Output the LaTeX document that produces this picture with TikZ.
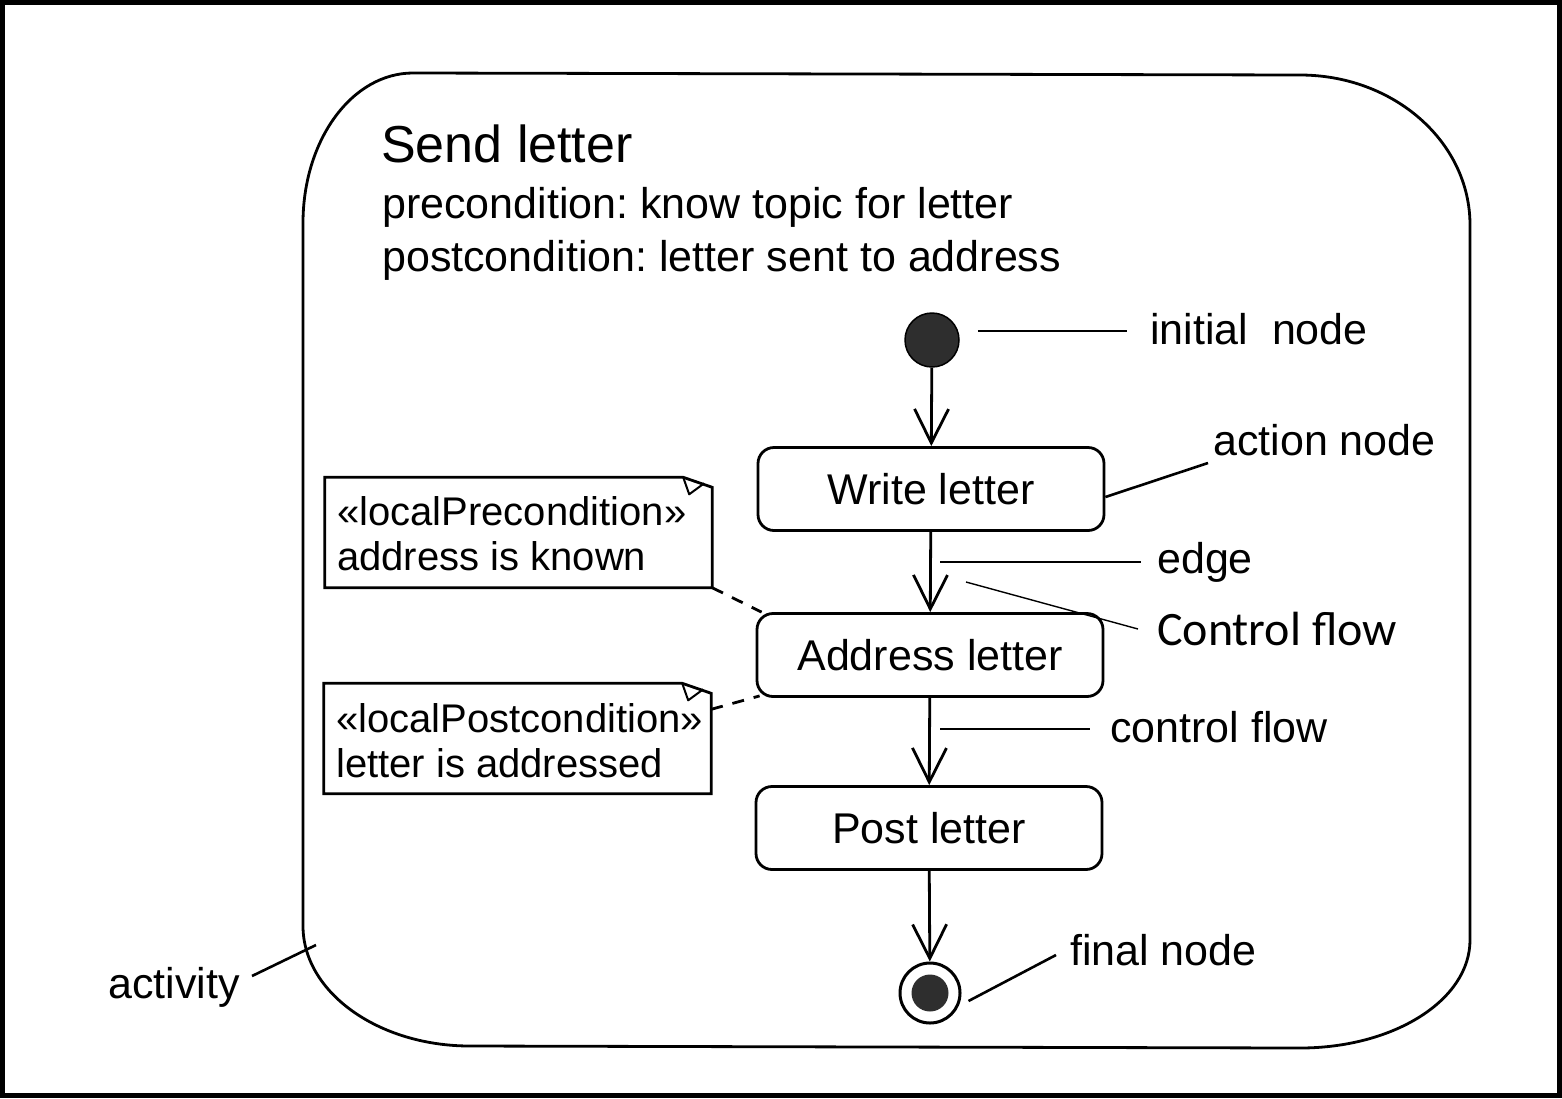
\documentclass[tikz,border=0pt]{standalone}
\usepackage{fontspec}
\setmainfont{Liberation Sans}
\newfontfamily\calibrifont{Carlito}
\usetikzlibrary{arrows.meta}
\frenchspacing

\begin{document}
\begin{tikzpicture}[x=1pt,y=-1pt,
  pen/.style={line width=2.8pt},
  actbox/.style={draw, pen, rounded corners=16pt, minimum width=346pt,
    minimum height=83pt, inner sep=0pt, font=\fontsize{43}{50}\selectfont},
  flow/.style={pen, -{Straight Barb[length=34pt,width=34pt]}},
  notearea/.style={minimum width=387pt, minimum height=110pt, inner sep=0pt},
  notetext/.style={anchor=base west, inner sep=0pt, font=\fontsize{40}{45}\selectfont},
  lbl/.style={anchor=base west, inner sep=0pt, font=\fontsize{43}{50}\selectfont},
  lblline/.style={line width=2.6pt},
  dashline/.style={line width=2.8pt, dash pattern=on 12pt off 10pt},
]
\useasboundingbox (0,0) rectangle (1562,1098);

% outer frame
\draw[line width=5pt] (2.5,2.5) rectangle (1559.5,1095.5);

% activity frame with elliptic corners
\draw[pen]
  (303,223) .. controls (303,140) and (352,73) .. (413,73)
  -- (1300,75) .. controls (1394,75) and (1470,142) .. (1470,225)
  -- (1470,940) .. controls (1470,1000) and (1394,1048) .. (1300,1048)
  -- (470,1046) .. controls (378,1046) and (303,992) .. (303,926)
  -- cycle;
\coordinate (actrim) at (316,945);

% activity heading
\node[anchor=base west, inner sep=0pt, font=\fontsize{52}{60}\selectfont] (title) at (381,162) {Send letter};
\node[lbl] (precond) at (382,218) {precondition: know topic for letter};
\node[lbl] (postcond) at (382,271) {postcondition: letter sent to address};

% control nodes
\node[circle, draw, line width=1.5pt, fill=black!82, minimum size=54pt, inner sep=0pt] (init) at (932,340) {};
\node[actbox] (write) at (931,489) {Write letter};
\node[actbox] (addr) at (930,655) {Address letter};
\node[actbox] (post) at (929,828) {Post letter};
\node[circle, draw, line width=3pt, minimum size=60pt, inner sep=0pt] (final) at (930,993) {};
\node[circle, fill=black!82, minimum size=37pt, inner sep=0pt] (finalcore) at (930,993) {};

% edges
\draw[flow] (init) -- (write);
\draw[flow] (write) -- (addr);
\draw[flow] (addr) -- (post);
\draw[flow] (post) -- (final);

% notes
\node[notearea] (prenote) at (518.5,532.5) {};
\node[notearea] (postnote) at (517.5,738.5) {};
\foreach \n in {prenote,postnote}{
  \draw[pen, line join=miter]
    (\n.north west) -- ([xshift=-29pt]\n.north east)
    -- ([yshift=-10pt]\n.north east) -- (\n.south east)
    -- (\n.south west) -- cycle;
  \draw[line width=2pt, line join=round]
    ([xshift=-29pt]\n.north east) -- ([xshift=-23pt,yshift=-17pt]\n.north east)
    -- ([xshift=-8pt,yshift=-6pt]\n.north east);
}
\node[notetext] (pretxta) at (337,525) {«localPrecondition»};
\node[notetext] (pretxtb) at (337,570) {address is known};
\node[notetext] (posttxta) at (336,732) {«localPostcondition»};
\node[notetext] (posttxtb) at (336,777) {letter is addressed};

\draw[dashline] (prenote.south east) -- ([xshift=6pt]addr.north west);
\draw[dashline] ([yshift=-26pt]postnote.north east) -- ([xshift=4pt,yshift=2pt]addr.south west);

% callout labels
\node[lbl] (lblinit) at (1150,344) {initial\ \ node};
\draw[lblline] ([xshift=18pt,yshift=9pt]init.east) -- (1127,331);

\node[lbl] (lblaction) at (1213,455) {action node};
\draw[lblline] ([yshift=-8pt]write.east) -- (1208,463);

\node[lbl] (lbledge) at (1157,573) {edge};
\draw[lblline] (940,562) -- (1141,562);

\node[anchor=base west, inner sep=0pt, font=\calibrifont\fontsize{48}{56}\selectfont] (lblcf) at (1157,645) {Control flow};
\draw[line width=1.4pt] (966,582) -- (1138,629);

\node[lbl] (lblflow) at (1110,742) {control flow};
\draw[lblline] (940,729) -- (1090,729);

\node[lbl] (lblfinal) at (1070,965) {final node};
\draw[lblline] ([xshift=7pt,yshift=-8pt]final.east) -- (1056,955);

\node[lbl] (lblact) at (108,998) {activity};
\draw[lblline] (252,976) -- (actrim);
\end{tikzpicture}
\end{document}
